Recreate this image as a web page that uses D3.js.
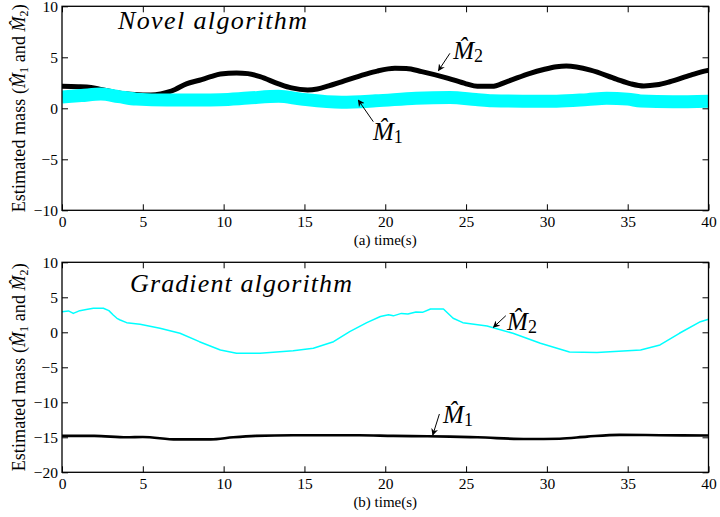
<!DOCTYPE html>
<html>
<head>
<meta charset="utf-8">
<script src="https://cdn.jsdelivr.net/npm/d3@7"></script>
<style>
  html, body { margin: 0; padding: 0; background: #fff; }
  svg { display: block; }
  svg text { font-family: "Liberation Serif", "Times New Roman", "DejaVu Serif", serif; fill: #000; }
</style>
</head>
<body>
<svg id="chart" width="720" height="517"></svg>
<script>
// ---- data -------------------------------------------------------------
// (a) novel algorithm: time (s) and estimated masses
const novelM2Time  = [0, 1, 1.8, 2.4, 3.5, 4.5, 5.5, 6.1, 6.6, 7, 7.7, 8.5, 9.2, 9.8, 10.8, 11.5, 12.25, 13.4, 14.2, 15.2, 15.8, 16.5, 17.3, 18.75, 19.5, 20.6, 21.3, 22.26, 23.9, 25, 25.7, 26.6, 27.5, 28.96, 29.8, 30.6, 31.2, 32.7, 34.3, 35.2, 36, 36.8, 37.6, 38.9, 39.9, 40];
const novelM2Value = [2.15, 2.12, 2.05, 1.86, 1.5, 1.35, 1.3, 1.4, 1.6, 1.85, 2.4, 2.75, 3.1, 3.36, 3.46, 3.4, 3.1, 2.4, 2.0, 1.8, 1.9, 2.2, 2.6, 3.33, 3.65, 3.92, 3.9, 3.6, 2.94, 2.4, 2.15, 2.15, 2.6, 3.43, 3.8, 4.08, 4.15, 3.75, 2.87, 2.4, 2.19, 2.3, 2.6, 3.26, 3.69, 3.72];
const novelM1Time  = [0, 1.2, 2.4, 3.5, 4.6, 6.5, 8, 9.8, 11.5, 13.4, 14.8, 17.3, 19.4, 21.9, 24, 25.6, 26.6, 28.5, 30.6, 32.5, 33.7, 35, 35.8, 37.8, 40];
const novelM1Value = [1.1, 1.25, 1.4, 1.15, 0.9, 0.81, 0.82, 0.85, 1.0, 1.17, 0.9, 0.6, 0.73, 0.99, 1.06, 0.86, 0.73, 0.7, 0.7, 0.85, 0.98, 0.9, 0.72, 0.65, 0.7];

// (b) gradient algorithm
const gradM2Time  = [0, 0.4, 0.7, 1.1, 1.5, 1.94, 2.56, 2.9, 3.17, 3.4, 3.6, 4.0, 4.83, 6.06, 7.3, 8.5, 9.8, 10.8, 12.25, 14.3, 15.55, 16.8, 17.8, 18.86, 19.7, 20.2, 20.5, 21.0, 21.4, 21.9, 22.3, 22.8, 23.6, 24.2, 24.8, 26.3, 27.9, 29.6, 31.4, 33.1, 35.8, 37, 38.2, 39.5, 40];
const gradM2Value = [2.94, 3.05, 2.7, 3.09, 3.25, 3.43, 3.43, 3.1, 2.47, 2.0, 1.76, 1.38, 1.14, 0.57, -0.14, -1.34, -2.53, -3.0, -3.0, -2.62, -2.29, -1.34, 0.09, 1.38, 2.25, 2.5, 2.35, 2.7, 2.6, 2.9, 2.85, 3.33, 3.33, 2.0, 1.38, 0.9, -0.14, -1.57, -2.81, -2.9, -2.53, -1.81, -0.14, 1.52, 1.86];
const gradM1Time  = [0, 2, 4, 5, 7.1, 9.2, 10.6, 12, 14.3, 18.4, 20.5, 22.6, 24, 25.7, 28.8, 30.8, 32.5, 34.5, 37, 40];
const gradM1Value = [-14.8, -14.8, -15.0, -14.95, -15.3, -15.3, -15.0, -14.8, -14.7, -14.7, -14.8, -14.85, -14.9, -15.0, -15.25, -15.2, -14.9, -14.65, -14.7, -14.75];

// axis ticks
const xTicks = [0, 5, 10, 15, 20, 25, 30, 35, 40];
const yTicksA = [-10, -5, 0, 5, 10];
const yTicksB = [-20, -15, -10, -5, 0, 5, 10];

// ---- layout -----------------------------------------------------------
const SERIF = "'Liberation Serif', 'Times New Roman', 'DejaVu Serif', serif";
const svg = d3.select("#chart");
const left = 62, right = 708.5;

const panels = [
  {
    top: 6.3, bottom: 210.3, yDomain: [-10, 10], yTicks: yTicksA,
    title: "Novel algorithm", titleX: 118, titleY: 29, titleLen: 189,
    xlabel: "(a) time(s)",
    series: [
      { t: novelM2Time, v: novelM2Value, color: "#000", width: 5, curve: d3.curveMonotoneX },
      { t: novelM1Time, v: novelM1Value, color: "#00ffff", width: 13, curve: d3.curveMonotoneX }
    ],
    notes: [
      { sub: "2", label: [24.2, 4.83], tail: [24.0, 5.39], tip: [23.29, 3.69] },
      { sub: "1", label: [19.24, -3.11], tail: [19.26, -1.31], tip: [18.33, 0.81] }
    ]
  },
  {
    top: 262.3, bottom: 472.3, yDomain: [-20, 10], yTicks: yTicksB,
    title: "Gradient algorithm", titleX: 130, titleY: 292, titleLen: 222,
    xlabel: "(b) time(s)",
    series: [
      { t: gradM2Time, v: gradM2Value, color: "#00ffff", width: 1.5, curve: d3.curveLinear },
      { t: gradM1Time, v: gradM1Value, color: "#000", width: 2.6, curve: d3.curveMonotoneX }
    ],
    notes: [
      { sub: "2", label: [27.54, 0.33], tail: [27.46, 2.37], tip: [26.69, 0.71] },
      { sub: "1", label: [23.58, -12.96], tail: [23.35, -11.67], tip: [22.94, -14.67] }
    ]
  }
];

// arrowhead
svg.append("defs").append("marker")
  .attr("id", "arrow")
  .attr("viewBox", "0 0 10 10")
  .attr("refX", 9).attr("refY", 5)
  .attr("markerWidth", 7).attr("markerHeight", 7)
  .attr("markerUnits", "userSpaceOnUse")
  .attr("orient", "auto")
  .append("path")
  .attr("d", "M0,0 L10,5 L0,10 L3,5 Z")
  .attr("fill", "#000");

const tickLen = 6;
const fmt = d3.format("d");

panels.forEach(p => {
  const x = d3.scaleLinear().domain([0, 40]).range([left, right]);
  const y = d3.scaleLinear().domain(p.yDomain).range([p.bottom, p.top]);
  const g = svg.append("g").attr("font-family", SERIF);

  const clipId = "clip" + Math.round(p.top);
  g.append("clipPath").attr("id", clipId).append("rect")
    .attr("x", left).attr("y", p.top)
    .attr("width", right - left).attr("height", p.bottom - p.top);

  // data lines
  const lines = g.append("g").attr("clip-path", `url(#${clipId})`);
  p.series.forEach(s => {
    const line = d3.line().x(d => x(d[0])).y(d => y(d[1])).curve(s.curve);
    const pts = s.t.map((t, i) => [t, s.v[i]]);
    lines.append("path")
      .datum(pts)
      .attr("d", line)
      .attr("fill", "none")
      .attr("stroke", s.color)
      .attr("stroke-width", s.width)
      .attr("stroke-linejoin", "round");
  });

  // axes (ticks pointing inward, on all four sides)
  const axB = g.append("g").attr("transform", `translate(0,${p.bottom})`)
    .call(d3.axisBottom(x).tickValues(xTicks).tickSizeInner(-tickLen).tickSizeOuter(0).tickFormat(fmt));
  const axT = g.append("g").attr("transform", `translate(0,${p.top})`)
    .call(d3.axisTop(x).tickValues(xTicks).tickSizeInner(-tickLen).tickSizeOuter(0).tickFormat(""));
  const axL = g.append("g").attr("transform", `translate(${left},0)`)
    .call(d3.axisLeft(y).tickValues(p.yTicks).tickSizeInner(-tickLen).tickSizeOuter(0).tickFormat(fmt));
  const axR = g.append("g").attr("transform", `translate(${right},0)`)
    .call(d3.axisRight(y).tickValues(p.yTicks).tickSizeInner(-tickLen).tickSizeOuter(0).tickFormat(""));

  [axB, axT, axL, axR].forEach(a => {
    a.attr("font-family", SERIF).attr("font-size", 15.5);
    a.select(".domain").remove();
    a.selectAll("line").attr("stroke", "#000").attr("stroke-width", 1);
    a.selectAll("text").attr("fill", "#000");
  });
  axB.selectAll("text").attr("y", 6).attr("dy", "0.71em");
  axL.selectAll("text").attr("x", -4).attr("dy", "0.36em");

  // box
  g.append("rect")
    .attr("x", left).attr("y", p.top)
    .attr("width", right - left).attr("height", p.bottom - p.top)
    .attr("fill", "none").attr("stroke", "#000").attr("stroke-width", 1.3);

  // title inside the plot
  g.append("text")
    .attr("x", p.titleX).attr("y", p.titleY)
    .attr("textLength", p.titleLen).attr("lengthAdjust", "spacing")
    .attr("font-size", 26).attr("font-style", "italic")
    .text(p.title);

  // x label
  g.append("text")
    .attr("x", (left + right) / 2).attr("y", p.bottom + 35)
    .attr("text-anchor", "middle")
    .attr("font-size", 15)
    .text(p.xlabel);

  // y label
  const cy = (p.top + p.bottom) / 2;
  const yl = g.append("text")
    .attr("transform", `translate(25,${cy}) rotate(-90)`)
    .attr("text-anchor", "middle")
    .attr("font-size", 18)
    .attr("textLength", 208).attr("lengthAdjust", "spacing");
  yl.append("tspan").text("Estimated mass (");
  yl.append("tspan").attr("font-style", "italic").text("M\u0302");
  yl.append("tspan").attr("dy", 3).attr("font-size", 12).text("1");
  yl.append("tspan").attr("dy", -3).text(" and ");
  yl.append("tspan").attr("font-style", "italic").text("M\u0302");
  yl.append("tspan").attr("dy", 3).attr("font-size", 12).text("2");
  yl.append("tspan").attr("dy", -3).text(")");

  // annotations: label with arrow pointing at the curve
  p.notes.forEach(n => {
    g.append("line")
      .attr("x1", x(n.tail[0])).attr("y1", y(n.tail[1]))
      .attr("x2", x(n.tip[0])).attr("y2", y(n.tip[1]))
      .attr("stroke", "#000").attr("stroke-width", 1)
      .attr("marker-end", "url(#arrow)");
    const t = g.append("text")
      .attr("x", x(n.label[0])).attr("y", y(n.label[1]))
      .attr("font-size", 25);
    t.append("tspan").attr("font-style", "italic").text("M\u0302");
    t.append("tspan").attr("dy", 3).attr("font-size", 18).text(n.sub);
  });
});
</script>
</body>
</html>
